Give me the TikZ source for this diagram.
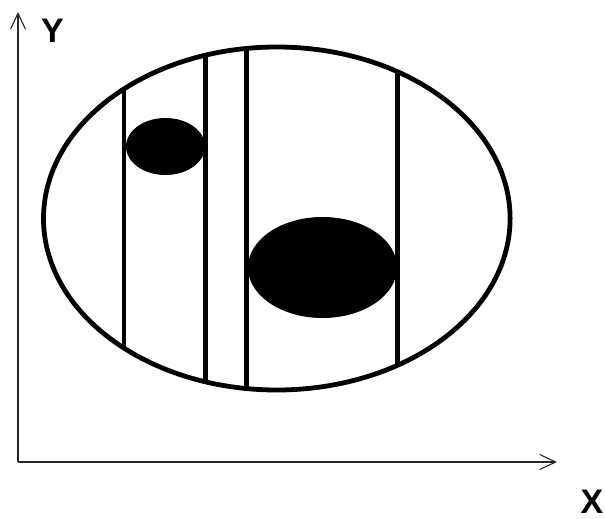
\documentclass[tikz,border=0pt]{standalone}
\usepackage{fontspec}
\setmainfont{Liberation Sans}
\usetikzlibrary{arrows.meta}
\tikzset{
  axisline/.style={line width=1.3pt, draw=black!85, -{Straight Barb[length=16pt,width=15pt,line width=1.1pt]}},
  axislabel/.style={font=\fontsize{34}{34}\selectfont\bfseries, inner sep=0pt},
  thick line/.style={line width=4.8pt},
  blob/.style={fill=black}
}
\begin{document}
\begin{tikzpicture}[x=1pt,y=-1pt]
\useasboundingbox (0,0) rectangle (605,519);
% axes
\coordinate (O) at (18,462);
\coordinate (Ytip) at (18,12);
\coordinate (Xtip) at (557,462);
\draw[axisline] (O) -- (Ytip);
\draw[axisline] (O) -- (Xtip);
\node[axislabel] (ylab) at (52.5,31) {Y};
\node[axislabel] (xlab) at (592,501.5) {X};
% vertical lines clipped to the ellipse
\begin{scope}
  \clip (276.8,218.5) ellipse [x radius=233.3, y radius=171.5];
  \draw[thick line] (124,0) -- (124,519);
  \draw[thick line] (205.7,0) -- (205.7,519);
  \draw[thick line] (246.7,0) -- (246.7,519);
  \draw[thick line] (397.7,0) -- (397.7,519);
\end{scope}
% blobs
\fill[blob] (165.5,146.5) ellipse [x radius=39.5, y radius=28.5];
\fill[blob] (322.5,267.5) ellipse [x radius=74.5, y radius=50.5];
% outer ellipse
\draw[thick line] (276.8,218.5) ellipse [x radius=233.3, y radius=171.5];
\end{tikzpicture}
\end{document}
